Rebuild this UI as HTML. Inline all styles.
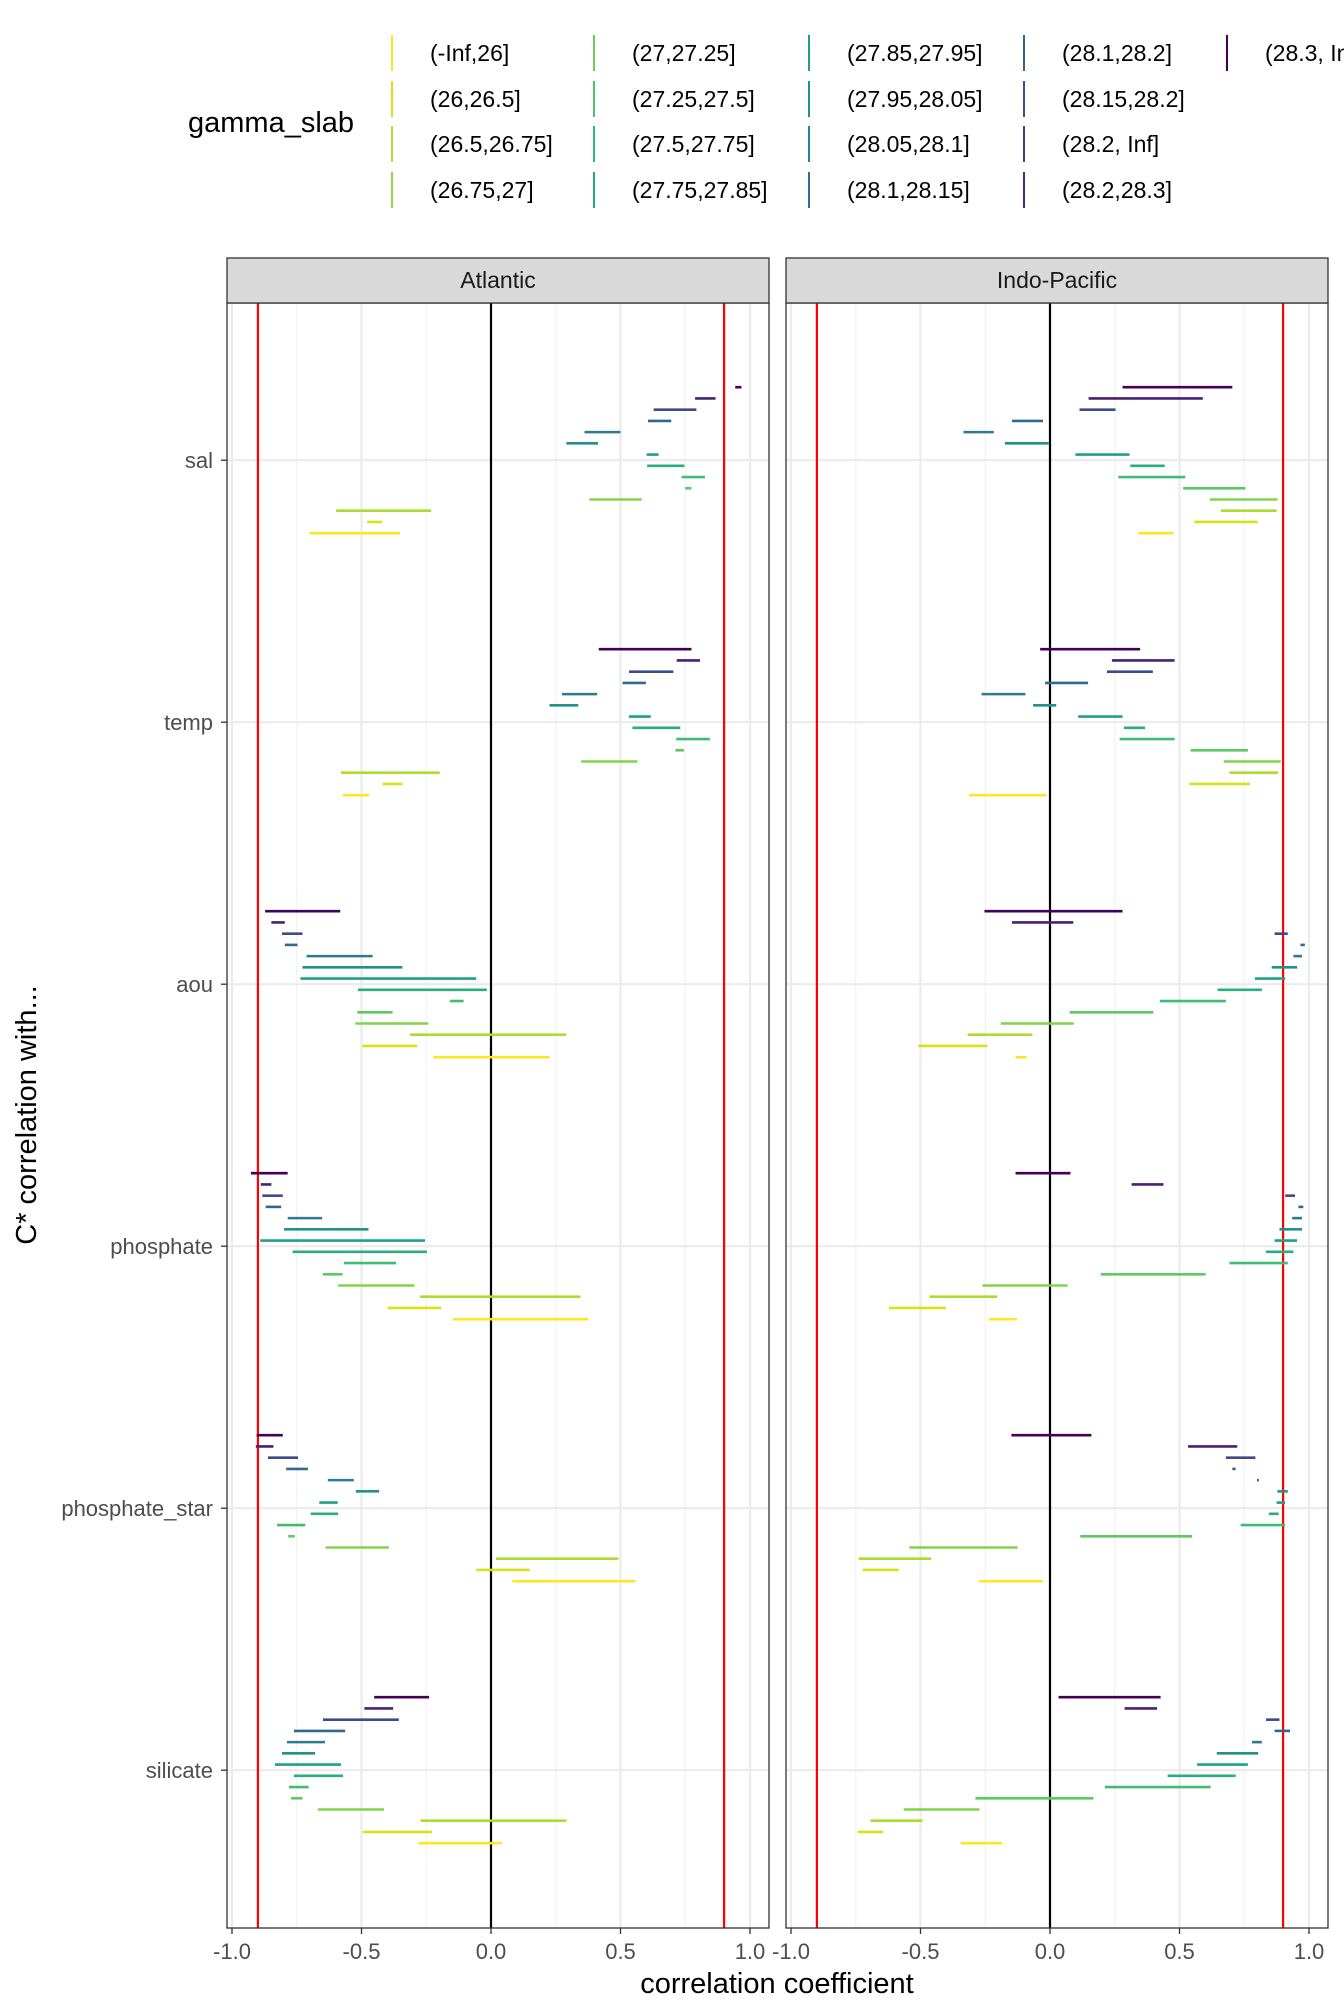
<!DOCTYPE html>
<html><head><meta charset="utf-8">
<style>
html,body{margin:0;padding:0;background:#fff;}
svg{display:block;font-family:"Liberation Sans",sans-serif;}
</style></head>
<body>
<svg id="chart" width="1344" height="2016" viewBox="0 0 1344 2016"></svg>
<script>
const categories = ["sal","temp","aou","phosphate","phosphate_star","silicate"];
const panels = ["Atlantic","Indo-Pacific"];
const xTicks = [-1,-0.5,0,0.5,1];
const xTickLabels = ["-1.0","-0.5","0.0","0.5","1.0"];
const legendLabels = ["(-Inf,26]","(26,26.5]","(26.5,26.75]","(26.75,27]","(27,27.25]","(27.25,27.5]","(27.5,27.75]","(27.75,27.85]","(27.85,27.95]","(27.95,28.05]","(28.05,28.1]","(28.1,28.15]","(28.1,28.2]","(28.15,28.2]","(28.2, Inf]","(28.2,28.3]","(28.3, Inf]"];
const legendColors = ["#fde725","#d2e21b","#b5de2b","#8fd744","#6ccd5a","#4ec36b","#35b779","#25ab82","#1f9e89","#21918c","#26828e","#2c728e","#33638d","#3b528b","#433e85","#482878","#440154"];
const rowColors = ["#440154","#482173","#3e4a89","#31688e","#2c7b8e","#21918c","#1fa088","#28ae80","#3fbc73","#5ec962","#84d44b","#addc30","#d8e219","#fde725"];
const thresholds = [-0.9, 0.9];
const atlLo = [
 [0.943,0.788,0.628,0.606,0.361,0.291,0.601,0.603,0.736,0.75,0.38,-0.598,-0.478,-0.701],
 [0.416,0.717,0.533,0.508,0.274,0.226,0.533,0.546,0.715,0.712,0.348,-0.579,-0.418,-0.571],
 [-0.872,-0.848,-0.807,-0.796,-0.712,-0.728,-0.736,-0.514,-0.158,-0.516,-0.524,-0.313,-0.497,-0.223],
 [-0.927,-0.889,-0.883,-0.87,-0.785,-0.799,-0.891,-0.766,-0.568,-0.649,-0.59,-0.274,-0.399,-0.147],
 [-0.905,-0.908,-0.861,-0.791,-0.63,-0.522,-0.663,-0.696,-0.826,-0.783,-0.639,0.019,-0.057,0.082],
 [-0.451,-0.489,-0.649,-0.761,-0.788,-0.807,-0.834,-0.761,-0.78,-0.772,-0.668,-0.272,-0.495,-0.28]];
const atlHi = [
 [0.967,0.867,0.793,0.696,0.5,0.413,0.647,0.747,0.826,0.774,0.582,-0.231,-0.421,-0.351],
 [0.774,0.807,0.704,0.598,0.41,0.337,0.617,0.731,0.845,0.745,0.565,-0.198,-0.342,-0.47],
 [-0.582,-0.796,-0.728,-0.747,-0.457,-0.342,-0.057,-0.016,-0.106,-0.38,-0.242,0.291,-0.285,0.226],
 [-0.785,-0.848,-0.804,-0.81,-0.652,-0.473,-0.255,-0.247,-0.367,-0.573,-0.296,0.345,-0.193,0.375],
 [-0.804,-0.84,-0.745,-0.707,-0.53,-0.432,-0.592,-0.59,-0.717,-0.758,-0.394,0.492,0.149,0.557],
 [-0.239,-0.378,-0.356,-0.563,-0.641,-0.679,-0.579,-0.571,-0.704,-0.728,-0.413,0.291,-0.228,0.043]];
const indLo = [
 [0.28,0.149,0.114,-0.147,-0.334,-0.174,0.098,0.31,0.264,0.514,0.617,0.66,0.557,0.342],
 [-0.038,0.239,0.22,-0.019,-0.264,-0.065,0.109,0.285,0.269,0.543,0.671,0.693,0.538,-0.313],
 [-0.253,-0.147,0.867,0.967,0.94,0.856,0.791,0.647,0.424,0.076,-0.19,-0.318,-0.508,-0.133],
 [-0.133,0.315,0.908,0.959,0.935,0.886,0.867,0.834,0.693,0.196,-0.261,-0.465,-0.622,-0.236],
 [-0.149,0.533,0.679,0.704,0.799,0.878,0.875,0.845,0.736,0.117,-0.543,-0.739,-0.723,-0.274],
 [0.033,0.288,0.834,0.867,0.78,0.644,0.568,0.454,0.212,-0.288,-0.565,-0.693,-0.742,-0.345]];
const indHi = [
 [0.704,0.59,0.253,-0.027,-0.217,-0.005,0.307,0.443,0.522,0.755,0.878,0.875,0.802,0.476],
 [0.348,0.481,0.397,0.147,-0.095,0.024,0.28,0.367,0.481,0.764,0.891,0.88,0.772,-0.014],
 [0.28,0.09,0.918,0.984,0.973,0.954,0.908,0.818,0.679,0.399,0.092,-0.068,-0.242,-0.09],
 [0.079,0.438,0.946,0.978,0.973,0.973,0.954,0.94,0.918,0.601,0.068,-0.204,-0.402,-0.128],
 [0.16,0.723,0.793,0.717,0.807,0.918,0.908,0.883,0.908,0.549,-0.125,-0.459,-0.584,-0.027],
 [0.427,0.413,0.886,0.927,0.818,0.804,0.764,0.717,0.62,0.168,-0.272,-0.492,-0.644,-0.185]];

const NS="http://www.w3.org/2000/svg";
const svg=document.getElementById('chart');
function mk(tag,attrs,parent,text){const e=document.createElementNS(NS,tag);for(const k in attrs)e.setAttribute(k,attrs[k]);if(text!==undefined)e.textContent=text;(parent||svg).appendChild(e);return e;}

const panelX=[227,786], panelW=542, pTop=303, pBot=1928, stripTop=258;
const zeroX=[491,1050], unit=259;
function xs(p,v){return zeroX[p]+unit*v;}
const catStep=262;
function ys(ci){return pTop+(ci+0.6)*catStep;}
const rowStep=11.23;
const lows=[atlLo,indLo], highs=[atlHi,indHi];

const lg=mk('g',{});


const lt=mk('text',{x:188,y:132,'font-size':29,fill:'#000'},lg,'gamma_slab');


const colX=[392,594,809,1024,1227], rowY=[53,99,144,190];
legendLabels.forEach((lab,i)=>{
  const c=Math.floor(i/4), r=i%4;
  const g=mk('g',{},lg);
  
  
  mk('line',{x1:colX[c],x2:colX[c],y1:rowY[r]-18,y2:rowY[r]+18,stroke:legendColors[i],'stroke-width':2},g);
  mk('text',{x:colX[c]+38,y:rowY[r]+8,'font-size':23,fill:'#000'},g,lab);
});

panels.forEach((pn,p)=>{
  const px=panelX[p];
  const g=mk('g',{});
  
  
  mk('rect',{x:px,y:pTop,width:panelW,height:pBot-pTop,fill:'#fff'},g);
  [-0.75,-0.25,0.25,0.75].forEach(v=>mk('line',{x1:xs(p,v),x2:xs(p,v),y1:pTop,y2:pBot,stroke:'#f2f2f2','stroke-width':1.2},g));
  xTicks.forEach(v=>mk('line',{x1:xs(p,v),x2:xs(p,v),y1:pTop,y2:pBot,stroke:'#ebebeb','stroke-width':2.2},g));
  categories.forEach((c,ci)=>mk('line',{x1:px,x2:px+panelW,y1:ys(ci),y2:ys(ci),stroke:'#ebebeb','stroke-width':2.2},g));
  const zl=mk('line',{x1:xs(p,0),x2:xs(p,0),y1:pTop,y2:pBot,stroke:'#000','stroke-width':2.2},g);
  
  
  thresholds.forEach(t=>{
    const rl=mk('line',{x1:xs(p,t),x2:xs(p,t),y1:pTop,y2:pBot,stroke:'#ff0000','stroke-width':2.2},g);
    
    
  });
  categories.forEach((c,ci)=>{
    for(let k=0;k<14;k++){
      const y=ys(ci)+(k-6.5)*rowStep;
      const s=mk('line',{x1:xs(p,lows[p][ci][k]),x2:xs(p,highs[p][ci][k]),y1:y,y2:y,stroke:rowColors[k],'stroke-width':2.6},g);
      
      
    }
  });
  mk('rect',{x:px,y:pTop,width:panelW,height:pBot-pTop,fill:'none',stroke:'#333','stroke-width':1.3},g);
  const st=mk('rect',{x:px,y:stripTop,width:panelW,height:pTop-stripTop,fill:'#d9d9d9',stroke:'#333','stroke-width':1.3},g);
  
  
  const stt=mk('text',{x:px+panelW/2,y:288,'font-size':23,'text-anchor':'middle',fill:'#1a1a1a'},g,pn);
  
  
  xTicks.forEach((v,i)=>{
    mk('line',{x1:xs(p,v),x2:xs(p,v),y1:pBot,y2:pBot+6,stroke:'#333','stroke-width':1.3},g);
    const tl=mk('text',{x:xs(p,v),y:1959,'font-size':22,'text-anchor':'middle',fill:'#4d4d4d'},g,xTickLabels[i]);
    
    
  });
});
categories.forEach((c,ci)=>{
  mk('line',{x1:221,x2:227,y1:ys(ci),y2:ys(ci),stroke:'#333','stroke-width':1.3});
  const t=mk('text',{x:213,y:ys(ci)+8,'font-size':22,'text-anchor':'end',fill:'#4d4d4d'},svg,c);
  
  
});
const xt=mk('text',{x:777,y:1993,'font-size':29,'text-anchor':'middle',fill:'#000'},svg,'correlation coefficient');


const yt=mk('text',{x:0,y:0,'font-size':29,'text-anchor':'middle',fill:'#000',transform:'translate(36,1115) rotate(-90)'},svg,'C* correlation with...');


</script>
</body></html>
